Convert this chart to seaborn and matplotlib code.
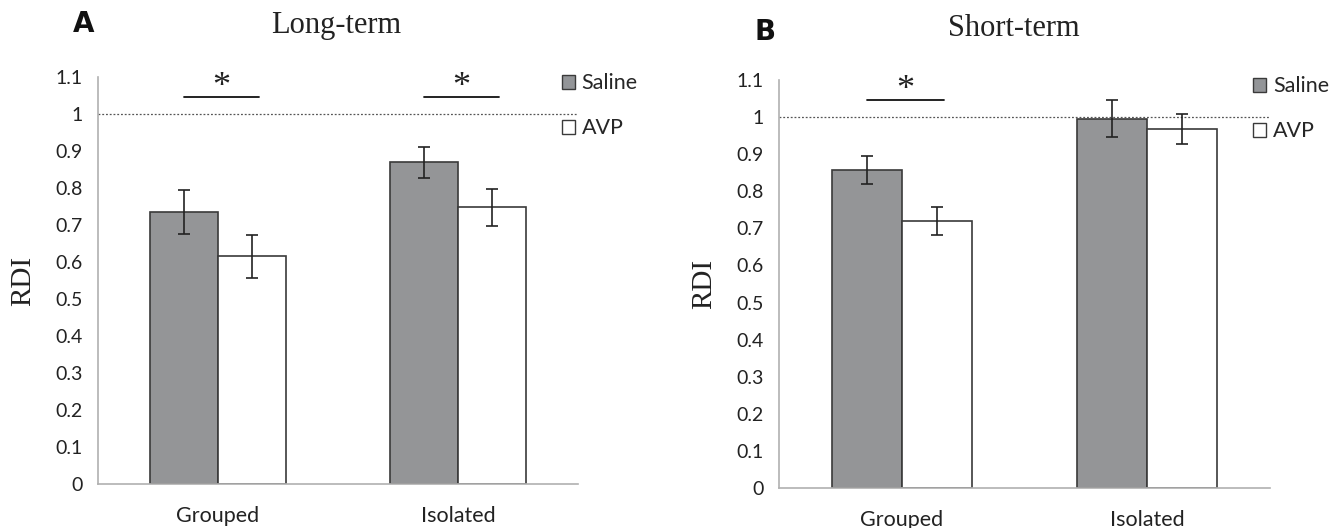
import matplotlib
matplotlib.use("Agg")
import matplotlib.pyplot as plt
from matplotlib.patches import Patch
import seaborn as sns
import pandas as pd
import numpy as np

# values
groups = ["Grouped", "Isolated"]
treatments = ["Saline", "AVP"]

long_saline = [0.735, 0.870]
long_saline_err = [0.060, 0.042]
long_avp = [0.615, 0.748]
long_avp_err = [0.057, 0.050]
long_sig = [True, True]

short_saline = [0.858, 0.995]
short_saline_err = [0.038, 0.050]
short_avp = [0.720, 0.968]
short_avp_err = [0.037, 0.040]
short_sig = [True, False]

y_ticks = [0, 0.1, 0.2, 0.3, 0.4, 0.5, 0.6, 0.7, 0.8, 0.9, 1, 1.1]
y_ticklabels = ["0", "0.1", "0.2", "0.3", "0.4", "0.5", "0.6", "0.7", "0.8", "0.9", "1", "1.1"]

sns.set_style("white")
plt.rcParams["font.family"] = ["Lato", "DejaVu Sans"]

colors = {"Saline": "#939598", "AVP": "#ffffff"}
edge = "#3a3a3a"
spine_col = "#b0b0b0"


def make_df(sal, sal_err, avp, avp_err):
    rows = []
    for i, g in enumerate(groups):
        rows.append({"group": g, "treat": "Saline", "rdi": sal[i], "err": sal_err[i]})
        rows.append({"group": g, "treat": "AVP", "rdi": avp[i], "err": avp_err[i]})
    return pd.DataFrame(rows)


def draw_panel(ax, df, sig, title, title_x, letter, letter_pos):
    sns.barplot(data=df, x="group", y="rdi", hue="treat", order=groups,
                hue_order=treatments, palette=colors, width=0.57, gap=0,
                errorbar=None, edgecolor=edge, linewidth=1.2, legend=False, ax=ax)
    bars = sorted([p for p in ax.patches], key=lambda p: p.get_x())
    xs = [p.get_x() + p.get_width() / 2 for p in bars]
    ax.errorbar(xs, df["rdi"].values, yerr=df["err"].values, fmt="none",
                ecolor="#222222", elinewidth=1.2, capsize=4, capthick=1.2, zorder=5)

    ax.set_xlim(-0.5, 1.5)
    ax.set_ylim(0, 1.1)
    ax.axhline(1.0, color="#555555", lw=0.9, ls=(0, (1.5, 1.5)), zorder=1)

    # significance markers
    for i, s in enumerate(sig):
        if not s:
            continue
        x0 = xs[2 * i]
        x1 = xs[2 * i + 1] + bars[2 * i + 1].get_width() * 0.1
        ax.plot([x0, x1], [1.046, 1.046], color="#111111", lw=1.3, clip_on=False)
        ax.text((x0 + x1) / 2, 1.072, "*", ha="center", va="center",
                fontsize=26, family="Liberation Serif", color="#222222")

    ax.set_yticks(y_ticks)
    ax.set_yticklabels(y_ticklabels)
    ax.set_xticks(range(len(groups)))
    ax.set_xticklabels(groups)
    ax.set_xticks([-0.5, 0.5, 1.5], minor=True)
    ax.tick_params(axis="x", which="major", length=0, pad=16, labelsize=15.5, labelcolor="#222222")
    ax.tick_params(axis="x", which="minor", length=7, width=1, color=spine_col, direction="out")
    ax.tick_params(axis="y", length=5, width=1, color=spine_col, direction="out",
                   pad=6, labelsize=14, labelcolor="#222222")
    ax.set_xlabel("")
    ax.set_ylabel("RDI", family="Liberation Serif", fontsize=21, labelpad=14, color="#222222")
    sns.despine(ax=ax)
    for sp in ["left", "bottom"]:
        ax.spines[sp].set_color(spine_col)
        ax.spines[sp].set_linewidth(1.2)

    ax.set_title(title, family="Liberation Serif", fontsize=22, pad=32, color="#222222",
                 x=title_x)
    ax.figure.text(letter_pos[0], letter_pos[1], letter, fontsize=20, fontweight="bold",
                   family="DejaVu Sans", ha="left", va="center", color="#111111")

    handles = [Patch(facecolor=colors[t], edgecolor=edge, linewidth=1.0) for t in treatments]
    ax.legend(handles, treatments, loc="upper left", bbox_to_anchor=(0.948, 1.03),
              frameon=False, fontsize=15.5, handlelength=0.62, handleheight=0.62,
              handletextpad=0.3, labelspacing=1.15, borderaxespad=0)


fig = plt.figure(figsize=(13.33, 5.28), dpi=100)
ax1 = fig.add_axes([0.0735, 0.0833, 0.3601, 0.7708])
ax2 = fig.add_axes([0.5844, 0.0758, 0.3683, 0.7727])

draw_panel(ax1, make_df(long_saline, long_saline_err, long_avp, long_avp_err),
           long_sig, "Long-term", 0.496, "A", (0.055, 0.955))
draw_panel(ax2, make_df(short_saline, short_saline_err, short_avp, short_avp_err),
           short_sig, "Short-term", 0.478, "B", (0.566, 0.94))

fig.savefig("out.png", dpi=100)
